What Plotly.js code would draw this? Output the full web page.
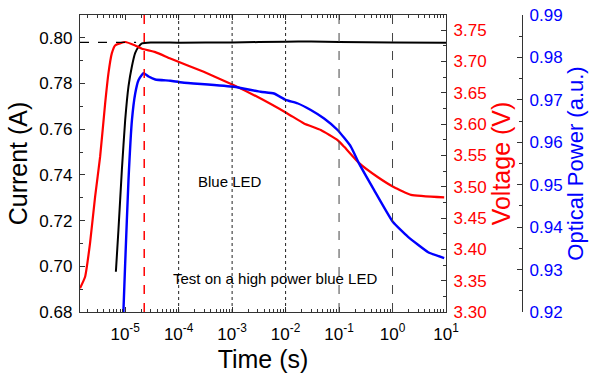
<!DOCTYPE html>
<html><head><meta charset="utf-8">
<script src="https://cdn.plot.ly/plotly-3.0.1.min.js"></script>
<style>html,body{margin:0;padding:0;background:#fff}#c{width:595px;height:377px}</style>
</head><body><div id="c"></div>
<script>
// Current (A) vs time (s)
const currentTime = [6.70e-6, 7.48e-6, 8.67e-6, 1.0e-5, 1.153e-5, 1.337e-5, 1.54e-5, 1.78e-5, 2.06e-5, 3.0e-5, 1e-4, 1e-3, 1e-2, 3e-2, 1e-1, 1, 10];
const currentVal  = [0.6976, 0.7159, 0.7422, 0.7640, 0.7788, 0.7876, 0.7934, 0.7961, 0.7976, 0.7980, 0.7979, 0.7980, 0.7983, 0.7984, 0.7982, 0.7980, 0.7979];
// Voltage (V) vs time (s)
const voltTime = [1.43e-6, 1.78e-6, 2.20e-6, 2.74e-6, 3.40e-6, 4.22e-6, 4.86e-6, 5.62e-6, 6.49e-6, 1.0e-5, 1.54e-5, 2.06e-5, 3.66e-5, 6.98e-5, 2.94e-4, 1.08e-3, 2.96e-3, 1.08e-2, 2.21e-2, 4.56e-2, 9.38e-2, 0.125, 0.235, 0.534, 1.07, 2.22, 9.25];
const voltVal  = [3.3378, 3.3563, 3.4096, 3.4840, 3.5479, 3.6330, 3.6808, 3.7127, 3.7254, 3.7309, 3.7254, 3.7201, 3.7148, 3.7046, 3.6833, 3.6620, 3.6434, 3.6169, 3.6009, 3.5903, 3.5743, 3.5636, 3.538, 3.515, 3.499, 3.487, 3.483];
// Optical power (a.u.) vs time (s)
const optTime = [9.1e-6, 9.29e-6, 1.0e-5, 1.153e-5, 1.337e-5, 1.54e-5, 1.78e-5, 2.06e-5, 2.20e-5, 2.74e-5, 3.66e-5, 6.98e-5, 1.17e-4, 1.08e-3, 3.41e-3, 6.05e-3, 1.0e-2, 1.66e-2, 2.96e-2, 5.25e-2, 9.38e-2, 0.166, 0.235, 0.45, 1.02, 1.95, 4.64, 9.25];
const optVal  = [0.918, 0.9205, 0.9315, 0.9511, 0.9652, 0.9715, 0.9747, 0.9759, 0.9763, 0.9755, 0.9748, 0.9745, 0.9741, 0.9731, 0.9719, 0.9715, 0.9700, 0.9692, 0.9676, 0.9656, 0.9629, 0.9590, 0.9551, 0.9488, 0.9412, 0.9377, 0.9341, 0.9327];
// x tick labels
const xTickVals = [1e-5, 1e-4, 1e-3, 1e-2, 1e-1, 1, 10];
const xTickText = ['10<sup>-5</sup>', '10<sup>-4</sup>', '10<sup>-3</sup>', '10<sup>-2</sup>', '10<sup>-1</sup>', '10<sup>0</sup>', '10<sup>1</sup>'];
// reference lines
const pulseMarkTime = 2.27e-5;
const currentSet = 0.798;
const currentSetEnd = 1.6e-5;
const dottedGridTimes = [1e-4, 1e-3, 1e-2];
const dashedGridTimes = [1e-1, 1];

const F = 'Liberation Sans, Arial, sans-serif';
const XR = [-5.845, 1], XD = 0.732;
const minorX = [];
for (let e = -6; e <= 0; e++) for (let m = 2; m <= 9; m++) minorX.push(m * Math.pow(10, e));

const traces = [
  {x: currentTime, y: currentVal, type: 'scatter', mode: 'lines', line: {color: '#000', width: 2, shape: 'spline', smoothing: 0.4}, yaxis: 'y'},
  {x: voltTime, y: voltVal, type: 'scatter', mode: 'lines', line: {color: '#ff0000', width: 2.2, shape: 'spline', smoothing: 0.4}, yaxis: 'y2'},
  {x: optTime, y: optVal, type: 'scatter', mode: 'lines', line: {color: '#0000ff', width: 2.4, shape: 'spline', smoothing: 0.4}, yaxis: 'y3'}
];

const shapes = [];
dottedGridTimes.forEach(t => shapes.push({type: 'line', xref: 'x', yref: 'paper', x0: t, x1: t, y0: 0, y1: 1, line: {color: '#222', width: 1, dash: 'dot'}}));
dashedGridTimes.forEach(t => shapes.push({type: 'line', xref: 'x', yref: 'paper', x0: t, x1: t, y0: 0, y1: 1, line: {color: '#444', width: 1, dash: 'dash'}}));
shapes.push({type: 'line', xref: 'x', yref: 'paper', x0: pulseMarkTime, x1: pulseMarkTime, y0: 0, y1: 1, line: {color: '#ff0000', width: 1.5, dash: 'dash'}});
shapes.push({type: 'line', xref: 'paper', yref: 'y', x0: 0, x1: (Math.log10(currentSetEnd) - XR[0]) / (XR[1] - XR[0]) * XD, y0: currentSet, y1: currentSet, line: {color: '#000', width: 1.2, dash: 'dash'}});

const layout = {
  width: 595, height: 377,
  margin: {l: 80, r: 15, t: 15, b: 65},
  paper_bgcolor: '#fff', plot_bgcolor: '#fff',
  showlegend: false,
  font: {family: F, color: '#000'},
  xaxis: {
    type: 'log', range: XR, domain: [0, XD],
    showgrid: false, zeroline: false,
    showline: true, linecolor: '#333', linewidth: 1.2, mirror: 'ticks',
    ticks: 'inside', ticklen: 5, tickcolor: '#333',
    tickvals: xTickVals, ticktext: xTickText, ticklabelstandoff: 6,
    tickfont: {size: 17, family: F},
    minor: {ticks: 'inside', ticklen: 3, tickcolor: '#333', tickvals: minorX},
    title: {text: 'Time (s)', font: {size: 25, family: F}, standoff: 8}
  },
  yaxis: {
    range: [0.68, 0.81], dtick: 0.02, tickformat: '.2f',
    showgrid: false, zeroline: false,
    showline: true, linecolor: '#333', linewidth: 1.2,
    ticks: 'inside', ticklen: 5, tickcolor: '#333',
    tickfont: {size: 17, family: F}, ticklabelstandoff: 3,
    minor: {ticks: 'inside', ticklen: 3, dtick: 0.01, tickcolor: '#333'},
    title: {text: 'Current (A)', font: {size: 25, family: F}, standoff: 4}
  },
  yaxis2: {
    overlaying: 'y', side: 'right', anchor: 'x',
    range: [3.30, 3.774], dtick: 0.05, tickformat: '.2f',
    showgrid: false, zeroline: false,
    showline: true, linecolor: '#333', linewidth: 1.2,
    ticks: 'inside', ticklen: 5, tickcolor: '#333',
    tickfont: {size: 17, family: F, color: '#ff0000'}, ticklabelstandoff: 3,
    minor: {ticks: 'inside', ticklen: 3, dtick: 0.025, tickcolor: '#333'},
    title: {text: 'Voltage (V)', font: {size: 25, family: F, color: '#ff0000'}, standoff: 6}
  },
  yaxis3: {
    overlaying: 'y', side: 'right', anchor: 'free', position: 0.884,
    range: [0.92, 0.99], dtick: 0.01, tickformat: '.2f',
    showgrid: false, zeroline: false,
    showline: true, linecolor: '#333', linewidth: 1.2,
    ticks: 'inside', ticklen: 5, tickcolor: '#333',
    tickfont: {size: 17, family: F, color: '#0000ff'}, ticklabelstandoff: 3,
    minor: {ticks: 'inside', ticklen: 3, dtick: 0.005, tickcolor: '#333'},
    title: {text: 'Optical Power (a.u.)', font: {size: 22, family: F, color: '#0000ff'}, standoff: 6}
  },
  shapes: shapes,
  annotations: [
    {text: 'Blue LED', xref: 'x', yref: 'paper', x: -3.04, y: 0.441, showarrow: false, font: {size: 15, family: F, color: '#000'}},
    {text: 'Test on a high power blue LED', xref: 'x', yref: 'paper', x: -2.195, y: 0.077, showarrow: false, font: {size: 15, family: F, color: '#000'}}
  ]
};

Plotly.newPlot('c', traces, layout, {displayModeBar: false, staticPlot: true});
</script></body></html>
